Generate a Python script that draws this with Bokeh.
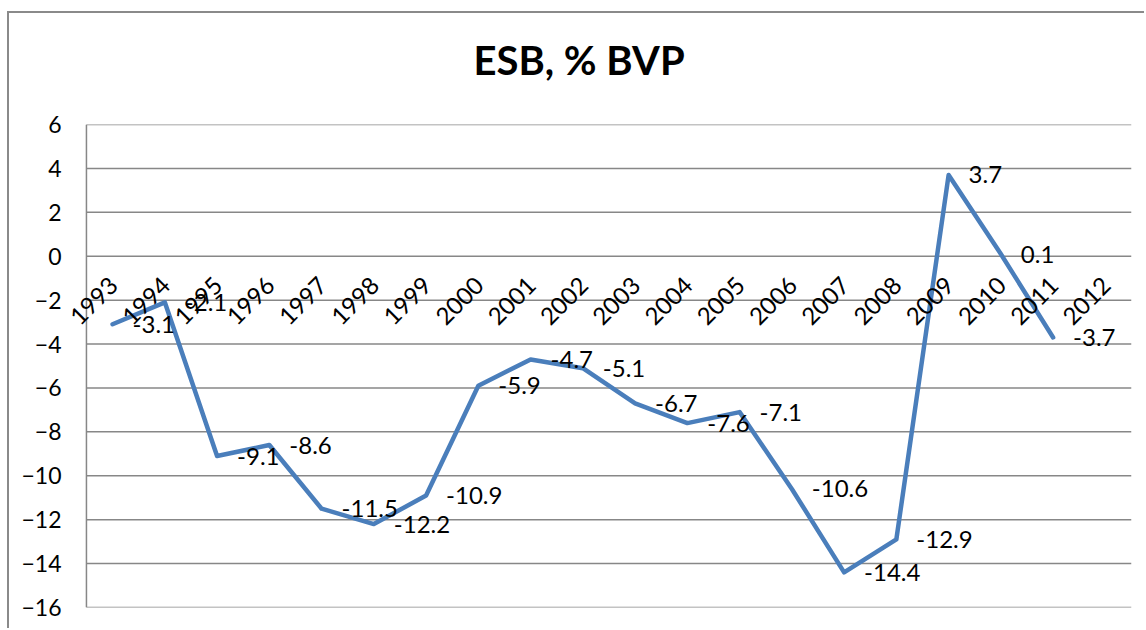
from bokeh.plotting import figure
from bokeh.models import Range1d, FixedTicker, LabelSet, ColumnDataSource, Title
from bokeh.embed import file_html
from bokeh.resources import INLINE
from bokeh.core.properties import value

# ---- data ----
years = ["1993", "1994", "1995", "1996", "1997", "1998", "1999", "2000", "2001", "2002",
         "2003", "2004", "2005", "2006", "2007", "2008", "2009", "2010", "2011", "2012"]
esb = [-3.1, -2.1, -9.1, -8.6, -11.5, -12.2, -10.9, -5.9, -4.7, -5.1,
       -6.7, -7.6, -7.1, -10.6, -14.4, -12.9, 3.7, 0.1, -3.7]
esb_labels = ["%.1f" % v for v in esb]
y_ticks = [-16, -14, -12, -10, -8, -6, -4, -2, 0, 2, 4, 6]
y_min, y_max = -16, 6
axis_cross = 0
title_text = "ESB, % BVP"

FONT = "Lato"
GRID = "#878787"

n_cat = len(years)
cat_x = [i + 0.5 for i in range(n_cat)]          # category centres on the x scale
val_x = cat_x[:len(esb)]

p = figure(width=1137, height=617,
           x_range=Range1d(-0.42, n_cat),
           y_range=Range1d(y_min, y_max),
           output_backend="svg", toolbar_location=None,
           min_border_left=55, min_border_right=15,
           min_border_top=111, min_border_bottom=23)
p.margin = (11, 0, 0, 7)
p.styles = {"border-left": "2px solid #8a8a8a", "border-top": "2px solid #8a8a8a"}

p.title.text = title_text
p.title.text_font = FONT
p.title.text_font_style = "bold"
p.title.text_font_size = "40px"
p.title.align = "left"
p.title.offset = 409
p.title.vertical_align = "top"
p.title.standoff = 10
p.title.text_color = "black"

# empty spacer between the title and the plot area
p.add_layout(Title(text=" ", text_font_size="20px", standoff=10), "above")

p.outline_line_color = None
p.background_fill_color = "white"
p.border_fill_color = "white"

p.xaxis.visible = False
p.xgrid.visible = False
p.ygrid.visible = False

yax = p.yaxis[0]
yax.ticker = FixedTicker(ticks=y_ticks)
yax.axis_line_color = None
yax.major_tick_in = 0
yax.major_tick_out = 0
yax.minor_tick_in = 0
yax.minor_tick_out = 0
yax.major_label_standoff = 3
yax.major_label_text_font = FONT
yax.major_label_text_font_size = "23px"
yax.major_label_text_color = "black"

# horizontal gridlines and the value-axis line, spanning the category area
p.segment(x0=[0] * len(y_ticks), x1=[n_cat] * len(y_ticks), y0=y_ticks, y1=y_ticks,
          line_color=GRID, line_width=1.5)
p.segment(x0=[0], x1=[0], y0=[y_min], y1=[y_max], line_color=GRID, line_width=1.5)

p.line(x=val_x, y=esb, line_color="#4A7EBB", line_width=4.5,
       line_cap="round", line_join="round")

# category labels along the zero line
cat_src = ColumnDataSource(dict(x=cat_x, y=[axis_cross] * n_cat, text=years))
p.add_layout(LabelSet(x="x", y="y", text="text", source=cat_src, angle=0.785398,
                      text_align="right", text_baseline="middle", x_offset=1, y_offset=-25,
                      text_font=value(FONT), text_font_size="24px", text_color="black"))

# data labels
val_src = ColumnDataSource(dict(x=val_x, y=esb, text=esb_labels))
p.add_layout(LabelSet(x="x", y="y", text="text", source=val_src, x_offset=20,
                      text_align="left", text_baseline="middle",
                      text_font=value(FONT), text_font_size="24px", text_color="black"))

open("out.html", "w").write(file_html(p, INLINE))
